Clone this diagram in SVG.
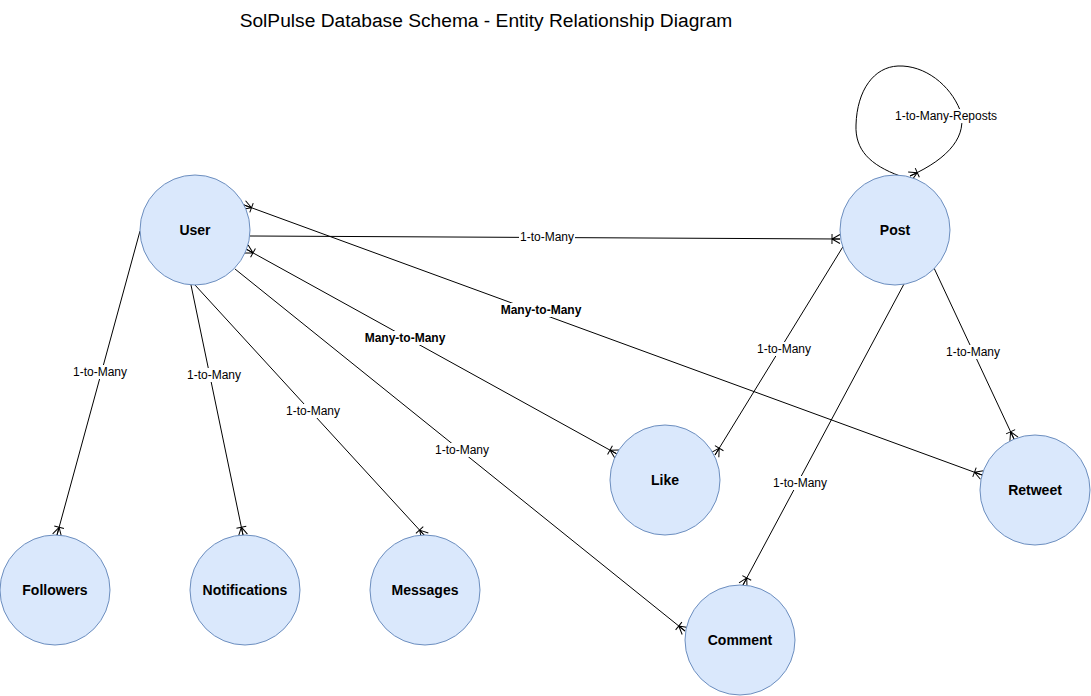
<svg xmlns="http://www.w3.org/2000/svg" width="1091" height="696" viewBox="0 0 1091 696">
<style>
.node circle{fill:#dae8fc;stroke:#6c8ebf;stroke-width:1}
.node text{font-family:"Liberation Sans",Arial,sans-serif;font-size:14px;font-weight:bold;fill:#000;text-anchor:middle;dominant-baseline:central}
.edge{fill:none;stroke:#000;stroke-width:1}
.lbl rect{fill:#fff}
.lbl text{font-family:"Liberation Sans",Arial,sans-serif;font-size:12px;fill:#000;text-anchor:middle;dominant-baseline:central}
.lbl text.b{font-weight:bold}
.title{font-family:"Liberation Sans",Arial,sans-serif;font-size:19.2px;fill:#000;text-anchor:middle}
</style>
<defs>
<marker id="many" viewBox="0 -6 12 12" refX="10" refY="0" markerWidth="12" markerHeight="12" markerUnits="userSpaceOnUse" orient="auto-start-reverse">
<path d="M2,0 L10,-4.5 M2,0 L10,0 M2,0 L10,4.5 M2,-5 L2,5" fill="none" stroke="#000" stroke-width="1"/>
</marker>
</defs>
<rect width="1091" height="696" fill="#fff"/>
<text class="title" x="486" y="27">SolPulse Database Schema - Entity Relationship Diagram</text>
<g id="connectors">
<path class="edge" d="M250,236 L840,239" marker-end="url(#many)"/>
<path class="edge" d="M244,205 L982,475" marker-start="url(#many)" marker-end="url(#many)"/>
<path class="edge" d="M246,249 L617,454" marker-start="url(#many)" marker-end="url(#many)"/>
<path class="edge" d="M235,269 L685,631" marker-end="url(#many)"/>
<path class="edge" d="M140,231 L57,535" marker-end="url(#many)"/>
<path class="edge" d="M191,285 L243,535" marker-end="url(#many)"/>
<path class="edge" d="M195,285 L425,536" marker-end="url(#many)"/>
<path class="edge" d="M844,245 L715,455" marker-end="url(#many)"/>
<path class="edge" d="M934,268 L1014,439" marker-end="url(#many)"/>
<path class="edge" d="M904,284 L743,585" marker-end="url(#many)"/>
<path class="edge" d="M900,176 C870,165 855,150 856,125 C857,90 874,67 898,66 C925,65 950,85 960,110 C968,135 950,158 910,176" marker-end="url(#many)"/>
<g class="lbl">
<rect x="519" y="230" width="56" height="14"/><text x="547" y="237">1-to-Many</text>
<rect x="500" y="303" width="83" height="14"/><text class="b" x="541" y="310">Many-to-Many</text>
<rect x="364" y="331" width="83" height="14"/><text class="b" x="405" y="338">Many-to-Many</text>
<rect x="434" y="443" width="56" height="14"/><text x="462" y="450">1-to-Many</text>
<rect x="72" y="365" width="56" height="14"/><text x="100" y="372">1-to-Many</text>
<rect x="186" y="368" width="56" height="14"/><text x="214" y="375">1-to-Many</text>
<rect x="285" y="404" width="56" height="14"/><text x="313" y="411">1-to-Many</text>
<rect x="756" y="342" width="56" height="14"/><text x="784" y="349">1-to-Many</text>
<rect x="945" y="345" width="56" height="14"/><text x="973" y="352">1-to-Many</text>
<rect x="772" y="476" width="56" height="14"/><text x="800" y="483">1-to-Many</text>
<rect x="895" y="109" width="103" height="14"/><text x="946" y="116">1-to-Many-Reposts</text>
</g>
</g>
<g id="user" class="node"><circle cx="195" cy="230" r="55"/><text x="195" y="230">User</text></g>
<g id="post" class="node"><circle cx="895" cy="230" r="55"/><text x="895" y="230">Post</text></g>
<g id="like" class="node"><circle cx="665" cy="480" r="55"/><text x="665" y="480">Like</text></g>
<g id="retweet" class="node"><circle cx="1035" cy="490" r="55"/><text x="1035" y="490">Retweet</text></g>
<g id="followers" class="node"><circle cx="55" cy="590" r="55"/><text x="55" y="590">Followers</text></g>
<g id="notifications" class="node"><circle cx="245" cy="590" r="55"/><text x="245" y="590">Notifications</text></g>
<g id="messages" class="node"><circle cx="425" cy="590" r="55"/><text x="425" y="590">Messages</text></g>
<g id="comment" class="node"><circle cx="740" cy="640" r="55"/><text x="740" y="640">Comment</text></g>
</svg>
